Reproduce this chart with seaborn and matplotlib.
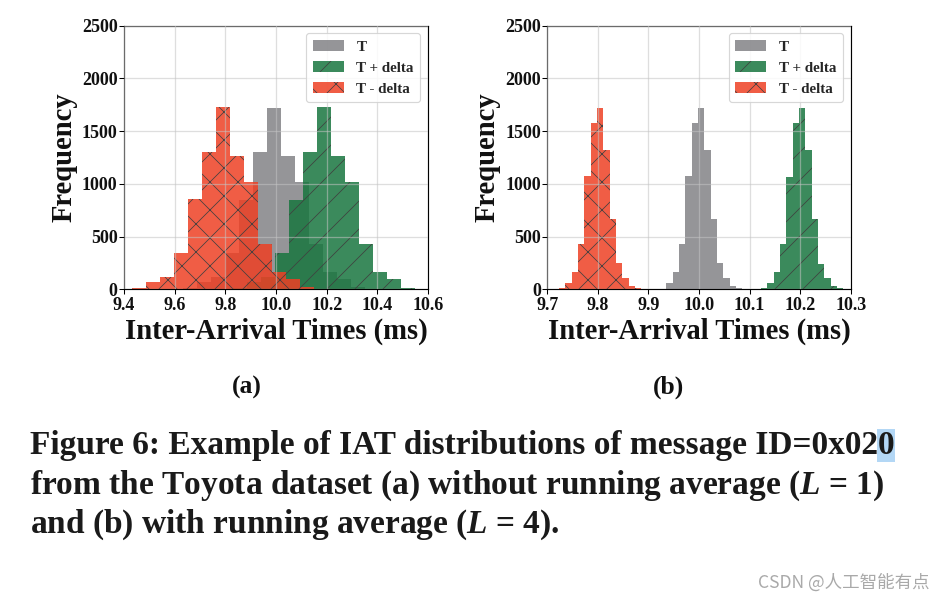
import numpy as np
import pandas as pd
import matplotlib
matplotlib.use("Agg")
import matplotlib.pyplot as plt
import seaborn as sns
from matplotlib.text import Annotation

# ---------------- data ----------------
series_labels = ["T", "T + delta", "T - delta"]

# panel (a): without running average (L = 1)
a_bin_width = 0.0553
a_T_centers = [9.659, 9.714, 9.770, 9.825, 9.880, 9.936, 9.991, 10.046, 10.102,
               10.157, 10.212, 10.268, 10.323, 10.378]
a_T_counts = [10, 70, 115, 345, 847, 1306, 1723, 1265, 1015, 427, 165, 95, 25, 5]
a_plus_centers = [9.859, 9.914, 9.970, 10.025, 10.080, 10.136, 10.191, 10.246,
                  10.302, 10.357, 10.412, 10.468, 10.523]
a_plus_counts = [10, 72, 117, 342, 847, 1306, 1727, 1268, 1021, 427, 164, 95, 15]
a_minus_centers = [9.459, 9.514, 9.570, 9.625, 9.680, 9.736, 9.791, 9.846, 9.902,
                   9.957, 10.012, 10.068, 10.123, 10.178]
a_minus_counts = [10, 72, 117, 342, 857, 1306, 1727, 1268, 1021, 427, 167, 95, 25, 3]

# panel (b): with running average (L = 4)
b_bin_width = 0.01252
b_T_centers = [9.9292, 9.9417, 9.9542, 9.9667, 9.9793, 9.9918, 10.0043, 10.0168,
               10.0294, 10.0419, 10.0544, 10.0669, 10.0794]
b_T_counts = [5, 63, 161, 430, 1072, 1581, 1723, 1319, 667, 247, 107, 28, 8]
b_plus_centers = [10.1289, 10.1414, 10.1539, 10.1664, 10.1790, 10.1915, 10.2040,
                  10.2165, 10.2291, 10.2416, 10.2541, 10.2666, 10.2791]
b_plus_counts = [10, 63, 161, 432, 1066, 1581, 1723, 1319, 667, 244, 107, 28, 8]
b_minus_centers = [9.7294, 9.7419, 9.7544, 9.7669, 9.7795, 9.7920, 9.8045, 9.8170,
                   9.8296, 9.8421, 9.8546, 9.8671, 9.8796]
b_minus_counts = [12, 63, 161, 430, 1072, 1581, 1723, 1319, 667, 247, 107, 28, 8]

a_xticks = [9.4, 9.6, 9.8, 10.0, 10.2, 10.4, 10.6]
b_xticks = [9.7, 9.8, 9.9, 10.0, 10.1, 10.2, 10.3]
y_ticks = [0, 500, 1000, 1500, 2000, 2500]

x_label = "Inter-Arrival Times (ms)"
y_label = "Frequency"
panel_tags = ["(a)", "(b)"]
caption_line1 = "Figure 6: Example of IAT distributions of message ID=0x02"
caption_line1_sel = "0"
caption_line2 = "from the Toyota dataset (a) without running average ($L$ = 1)"
caption_line3 = "and (b) with running average ($L$ = 4)."
watermark = "CSDN @人工智能有点"

# ---------------- style ----------------
DPI = 84
W, H = 947, 602
sns.set_style("whitegrid")
SERIF = ["Liberation Serif", "DejaVu Serif"]
plt.rcParams["font.family"] = SERIF
plt.rcParams["font.weight"] = "bold"
plt.rcParams["hatch.linewidth"] = 0.65
plt.rcParams["mathtext.fontset"] = "custom"
plt.rcParams["mathtext.it"] = "Liberation Serif:italic"
plt.rcParams["mathtext.rm"] = "Liberation Serif"

COL_T = "#838386"
COL_PLUS = "#19763f"
COL_MINUS = "#ee4024"
HATCH_COL = "#404040"
ALPHA = 0.85

fig = plt.figure(figsize=(W / DPI, H / DPI), dpi=DPI)
fig.patch.set_facecolor("white")


def px_rect(x0, y0, x1, y1):
    return [x0 / W, 1 - y1 / H, (x1 - x0) / W, (y1 - y0) / H]


ax_a = fig.add_axes(px_rect(124, 25.7, 428, 289.3))
ax_b = fig.add_axes(px_rect(547.3, 25.7, 850.7, 289.3))


def draw_hist(ax, centers, counts, width, color, hatch, label):
    c = np.asarray(centers, dtype=float)
    lo = float(c[0] - width / 2)
    hi = float(c[-1] + width / 2)
    df = pd.DataFrame({"iat": c, "count": counts})
    sns.histplot(data=df, x="iat", weights="count", binwidth=width,
                 binrange=(lo, hi), color=color, alpha=ALPHA, hatch=hatch,
                 edgecolor=HATCH_COL, linewidth=0, label=label, ax=ax)


def style_axes(ax, xlim, xticks):
    ax.set_xlim(*xlim)
    ax.set_ylim(0, 2500)
    ax.set_xticks(xticks)
    ax.set_xticklabels([f"{v:.1f}" for v in xticks])
    ax.set_yticks(y_ticks)
    ax.set_yticklabels([str(v) for v in y_ticks])
    ax.set_axisbelow(False)
    ax.grid(True, color="#c4c4c4", alpha=0.55, linewidth=1.1)
    for s in ax.spines.values():
        s.set_color("black")
        s.set_linewidth(1.0)
        s.set_visible(True)
    ax.tick_params(axis="both", which="major", direction="out", length=4,
                   width=0.9, color="black", labelsize=15.4, pad=1.5,
                   bottom=True, left=True, labelcolor="#111111")
    ax.tick_params(axis="x", pad=2.5)
    ax.set_xlabel(x_label, fontsize=24.5, fontweight="bold", labelpad=3,
                  color="#111111")
    ax.set_ylabel(y_label, fontsize=24.5, fontweight="bold", labelpad=4,
                  color="#111111")
    ax.legend(loc="upper right", prop={"family": SERIF, "weight": "bold", "size": 12.9},
              handlelength=2.05, handleheight=0.7, labelspacing=0.5,
              handletextpad=0.85, borderpad=0.45, borderaxespad=0.5,
              framealpha=0.85, edgecolor="#d0d0d0", fancybox=True)


draw_hist(ax_a, a_T_centers, a_T_counts, a_bin_width, COL_T, None, series_labels[0])
draw_hist(ax_a, a_plus_centers, a_plus_counts, a_bin_width, COL_PLUS, "/", series_labels[1])
draw_hist(ax_a, a_minus_centers, a_minus_counts, a_bin_width, COL_MINUS, "x", series_labels[2])
style_axes(ax_a, (9.4, 10.6), a_xticks)

draw_hist(ax_b, b_T_centers, b_T_counts, b_bin_width, COL_T, None, series_labels[0])
draw_hist(ax_b, b_plus_centers, b_plus_counts, b_bin_width, COL_PLUS, "/", series_labels[1])
draw_hist(ax_b, b_minus_centers, b_minus_counts, b_bin_width, COL_MINUS, "x", series_labels[2])
style_axes(ax_b, (9.7, 10.3), b_xticks)

# panel tags
fig.text(247 / W, 1 - 387 / H, panel_tags[0], ha="center", va="center",
         fontsize=22, fontweight="bold", color="#111111")
fig.text(669 / W, 1 - 387 / H, panel_tags[1], ha="center", va="center",
         fontsize=22, fontweight="bold", color="#111111")

# caption
cap_kw = dict(ha="left", va="baseline", fontweight="bold", color="#1a1a1a")
base_size = 24.0
probe = fig.text(30 / W, 1 - 453 / H, caption_line1 + caption_line1_sel,
                 fontsize=base_size, **cap_kw)
fig.canvas.draw()
rend = fig.canvas.get_renderer()
wpx = probe.get_window_extent(rend).width
cap_size = base_size * 865 / wpx
probe.remove()

t1 = fig.text(30 / W, 1 - 454 / H, caption_line1, fontsize=cap_size, **cap_kw)
sel = Annotation(caption_line1_sel, xy=(1, 0), xycoords=t1, ha="left", va="bottom",
                 fontsize=cap_size, fontweight="bold", color="#1a1a1a",
                 bbox=dict(boxstyle="square,pad=0.02", fc="#b3d7f5", ec="none"))
fig.add_artist(sel)
fig.text(30 / W, 1 - 494 / H, caption_line2, fontsize=cap_size, **cap_kw)
fig.text(30 / W, 1 - 533 / H, caption_line3, fontsize=cap_size, **cap_kw)

# watermark
fig.text(930 / W, 1 - 588 / H, watermark, ha="right", va="baseline",
         family=["Noto Sans CJK SC", "DejaVu Sans"], fontweight="normal",
         fontsize=15, color="#a9a9a9")

fig.savefig("out.png", dpi=DPI, facecolor="white")
